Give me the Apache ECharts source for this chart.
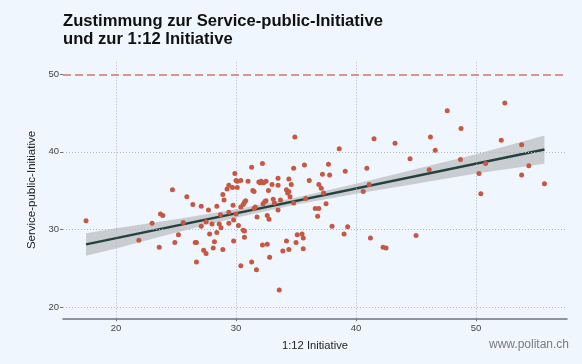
<!DOCTYPE html>
<html>
<head>
<meta charset="utf-8">
<script src="https://cdn.jsdelivr.net/npm/echarts@6/dist/echarts.min.js"></script>
<style>
html,body{margin:0;padding:0;background:#eff6fd;}
#chart{width:582px;height:364px;}
</style>
</head>
<body>
<div id="chart"></div>
<script>
// 1:12 Initiative (x) and Service-public-Initiative (y) approval per unit, in %
const initiative112 = [17.5,24.7,25.9,26.4,27.1,23.7,23.9,23.0,25.6,21.9,23.6,24.9,25.2,26.6,26.7,26.7,27.1,27.5,27.7,27.8,27.3,27.5,28.1,28.2,28.0,28.4,28.4,28.6,28.75,28.7,28.9,29.0,28.9,29.25,29.4,29.7,29.9,30.0,30.1,30.4,30.1,29.75,29.4,29.4,29.8,30.0,29.8,30.2,30.4,30.6,30.7,30.8,30.6,30.7,30.7,30.4,31.0,31.3,31.4,31.5,31.5,31.6,31.75,31.3,31.7,31.9,32.0,32.1,32.2,32.3,32.5,32.25,32.4,32.5,32.7,32.6,32.75,32.2,32.6,32.8,33.0,33.1,33.2,33.5,33.5,33.5,33.7,33.6,33.9,34.4,34.2,34.4,34.2,34.3,34.4,34.6,34.5,34.8,34.9,34.8,35.0,35.1,35.5,35.6,35.6,35.7,35.8,36.1,36.6,36.9,36.8,36.9,37.1,37.2,37.7,37.8,38.6,39.1,37.3,37.5,38.0,39.0,39.3,40.9,41.1,40.6,41.5,41.2,42.25,42.5,43.25,44.5,45.0,46.2,46.6,46.1,47.6,48.75,48.7,50.25,50.8,50.4,52.1,52.4,53.8,54.4,53.8,55.7];
const servicePublic = [31.1,35.1,34.2,33.2,33.0,32.0,31.8,30.8,30.9,28.6,27.7,28.3,29.3,28.3,28.3,25.8,30.4,31.0,32.5,29.4,27.3,26.9,27.6,28.4,30.7,33.0,29.6,30.7,30.2,31.9,34.5,33.8,27.4,35.2,35.7,35.4,37.2,36.3,36.2,36.3,35.4,33.1,32.2,30.8,31.2,32.0,28.5,30.5,32.9,33.2,33.5,33.7,29.9,29.8,29.0,25.3,36.2,38.0,35.0,34.9,32.7,32.9,31.6,25.8,24.8,36.1,36.0,36.2,38.5,36.0,36.2,33.3,33.6,33.7,35.0,31.8,31.3,28.0,28.1,26.4,35.8,33.9,33.4,36.6,35.7,32.5,33.8,22.2,27.2,27.4,28.5,36.5,35.1,34.7,34.9,35.8,34.2,37.9,41.9,33.4,28.3,29.3,29.4,28.9,27.5,38.3,34.0,36.3,32.7,32.7,31.7,35.8,35.3,37.1,38.4,37.0,40.4,37.5,34.7,33.3,30.4,29.4,30.35,37.9,35.8,34.9,41.7,28.9,27.7,27.6,41.1,39.1,29.2,41.9,40.2,37.7,45.3,43.0,39.0,37.2,38.5,34.6,41.5,46.3,40.9,38.2,37.0,35.9];

// fitted line end points and confidence band
const fitX = [17.5, 55.7];
const fitY = [28.07, 40.3];
const bandX = [17.5, 20, 25, 30, 35, 40, 45, 50, 55.7];
const bandLow = [26.6, 27.55, 29.6, 31.5, 33.2, 34.6, 35.9, 37.2, 38.45];
const bandHigh = [29.5, 30.15, 31.3, 32.6, 34.1, 35.9, 37.8, 39.7, 42.1];

const xTicks = [20, 30, 40, 50];
const yTicks = [20, 30, 40, 50];
const refLineY = 50;

const titleText = 'Zustimmung zur Service-public-Initiative\nund zur 1:12 Initiative';
const xName = '1:12 Initiative';
const yName = 'Service-public-Initiative';
const sourceText = 'www.politan.ch';

const FONT = '"Liberation Sans", Arial, Helvetica, sans-serif';
const chart = echarts.init(document.getElementById('chart'), null, {renderer: 'canvas'});

const points = initiative112.map((x, i) => [x, servicePublic[i]]);
const fitData = fitX.map((x, i) => [x, fitY[i]]);

const gridLines = [];
xTicks.forEach(v => gridLines.push({xAxis: v}));
yTicks.filter(v => v !== refLineY).forEach(v => gridLines.push({yAxis: v}));

const option = {
  backgroundColor: '#eff6fd',
  animation: false,
  title: {
    text: titleText,
    left: 63,
    top: 12,
    padding: 0,
    textStyle: {fontFamily: FONT, fontSize: 16.6, fontWeight: 'bold', color: '#111', lineHeight: 18}
  },
  graphic: [{
    type: 'text',
    right: 13,
    top: 339,
    style: {text: sourceText, font: '12px ' + FONT, fill: '#7a7a7a'}
  }],
  grid: {left: 63, right: 15, top: 61.7, bottom: 45.7, containLabel: false},
  xAxis: {
    type: 'value',
    min: 15.58,
    max: 57.58,
    name: xName,
    nameLocation: 'middle',
    nameGap: 22,
    nameTextStyle: {fontFamily: FONT, fontSize: 11.2, color: '#222'},
    axisLine: {show: true, lineStyle: {color: '#6f7479', width: 1.5}},
    axisTick: {show: true, length: 3, customValues: xTicks, lineStyle: {color: '#6f7479'}},
    axisLabel: {customValues: xTicks, margin: 5, fontFamily: FONT, fontSize: 9.5, color: '#444'},
    splitLine: {show: false}
  },
  yAxis: {
    type: 'value',
    min: 18.54,
    max: 51.62,
    name: yName,
    nameLocation: 'middle',
    nameGap: 18.5,
    nameTextStyle: {fontFamily: FONT, fontSize: 11.5, color: '#222'},
    axisLine: {show: false},
    axisTick: {show: true, length: 3, customValues: yTicks, lineStyle: {color: '#6f7479'}},
    axisLabel: {customValues: yTicks, margin: 4, fontFamily: FONT, fontSize: 9.5, color: '#444'},
    splitLine: {show: false}
  },
  series: [
    {
      type: 'scatter',
      z: 1,
      silent: true,
      symbolSize: 0,
      data: [[30, 30]],
      itemStyle: {opacity: 0},
      markLine: {
        silent: true,
        symbol: ['none', 'none'],
        label: {show: false},
        lineStyle: {color: '#b3b8bd', width: 1, type: [1, 2]},
        data: gridLines
      }
    },
    {
      type: 'scatter',
      z: 2,
      silent: true,
      symbolSize: 0,
      data: [[30, 30]],
      itemStyle: {opacity: 0},
      markLine: {
        silent: true,
        symbol: ['none', 'none'],
        label: {show: false},
        lineStyle: {color: '#d2756a', width: 1.5, type: [8, 4]},
        data: [{yAxis: refLineY}]
      }
    },
    {
      type: 'custom',
      z: 3,
      silent: true,
      data: [0],
      renderItem: function (params, api) {
        const pts = [];
        for (let i = 0; i < bandX.length; i++) pts.push(api.coord([bandX[i], bandHigh[i]]));
        for (let i = bandX.length - 1; i >= 0; i--) pts.push(api.coord([bandX[i], bandLow[i]]));
        return {type: 'polygon', shape: {points: pts}, style: {fill: '#c9cdd1'}};
      }
    },
    {
      type: 'line',
      z: 4,
      silent: true,
      symbol: 'none',
      data: fitData,
      lineStyle: {color: '#24423d', width: 2.5}
    },
    {
      type: 'scatter',
      z: 5,
      symbolSize: 5,
      data: points,
      itemStyle: {color: '#c65843', opacity: 1}
    }
  ]
};
chart.setOption(option);
</script>
</body>
</html>
